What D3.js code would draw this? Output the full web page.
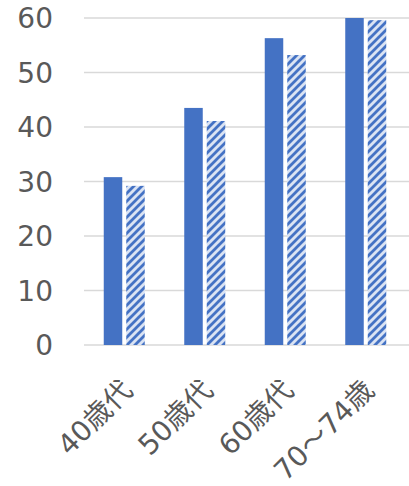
<!DOCTYPE html>
<html><head><meta charset="utf-8">
<script src="https://cdn.jsdelivr.net/npm/d3@7"></script>
<style>html,body{margin:0;padding:0;background:#fff;}</style>
</head><body>
<script>
const categories = ["40歳代", "50歳代", "60歳代", "70～74歳"];
const seriesA = [30.8, 43.5, 56.3, 60.0];
const seriesB = [29.2, 41.1, 53.2, 59.6];
const yTicks = [0, 10, 20, 30, 40, 50, 60];

const W = 409, H = 486;
const m = {left: 84, right: 3, top: 18, bottom: 141};
const svg = d3.select("body").append("svg").attr("width", W).attr("height", H);
const defs = svg.append("defs");
const pat = defs.append("pattern").attr("id", "hatch").attr("patternUnits", "userSpaceOnUse")
  .attr("width", 8).attr("height", 8);
pat.append("rect").attr("width", 8).attr("height", 8).attr("fill", "#dae3f3");
pat.append("path").attr("d", "M-2,2 L2,-2 M0,8 L8,0 M6,10 L10,6")
  .attr("stroke", "#4472c4").attr("stroke-width", 2.8);

const x = d3.scaleBand().domain(categories).range([m.left, W - m.right]);
const y = d3.scaleLinear().domain([0, 60]).range([H - m.bottom, m.top]);
const font = "'DejaVu Sans', 'Noto Sans CJK JP', sans-serif";

svg.append("g").selectAll("line").data(yTicks).join("line")
  .attr("x1", m.left).attr("x2", W).attr("y1", d => y(d)).attr("y2", d => y(d))
  .attr("stroke", "#d9d9d9").attr("stroke-width", 1.3);

svg.append("g").selectAll("text").data(yTicks).join("text")
  .attr("x", 53).attr("y", d => y(d)).attr("dy", "0.36em")
  .attr("text-anchor", "end").attr("font-family", font).attr("font-size", 28)
  .attr("fill", "#595959").text(d => d);

const bw = 18.5, gap = 4;
const g = svg.append("g");
g.selectAll("rect.a").data(categories).join("rect").attr("class", "a")
  .attr("x", (d) => x(d) + x.bandwidth() / 2 - gap / 2 - bw)
  .attr("width", bw)
  .attr("y", (d, i) => y(seriesA[i]))
  .attr("height", (d, i) => y(0) - y(seriesA[i]))
  .attr("fill", "#4472c4");
g.selectAll("rect.b").data(categories).join("rect").attr("class", "b")
  .attr("x", (d) => x(d) + x.bandwidth() / 2 + gap / 2)
  .attr("width", bw)
  .attr("y", (d, i) => y(seriesB[i]))
  .attr("height", (d, i) => y(0) - y(seriesB[i]))
  .attr("fill", "url(#hatch)");

svg.append("g").selectAll("text").data(categories).join("text")
  .attr("transform", d => `translate(${x(d) + x.bandwidth() / 2 + 10},${H - m.bottom + 47}) rotate(-45)`)
  .attr("text-anchor", "end").attr("font-family", font).attr("font-size", 28)
  .attr("fill", "#595959").text(d => d);
</script>
</body></html>
